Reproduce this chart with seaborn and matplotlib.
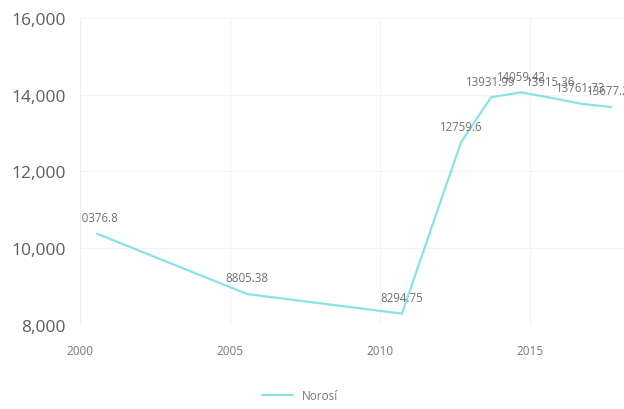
import numpy as np
import pandas as pd
import matplotlib.pyplot as plt
import matplotlib.ticker as mticker
import matplotlib.transforms as mtransforms
import seaborn as sns

# data
years = [2000.57, 2005.57, 2010.73, 2012.7, 2013.7, 2014.7, 2015.7, 2016.7, 2017.7]
values = [10376.8, 8805.38, 8294.75, 12759.6, 13931.99, 14059.42, 13915.36, 13761.73, 13677.21]
series_name = 'Norosí'
x_ticks = [2000, 2005, 2010, 2015]
y_ticks = [8000, 10000, 12000, 14000, 16000]

df = pd.DataFrame({'year': years, 'value': values, 'series': series_name})

sns.set_style('white')
plt.rcParams['font.family'] = ['Open Sans', 'DejaVu Sans']

line_color = '#8ae2e4'
text_color = '#5e5e5e'

fig = plt.figure(figsize=(6.24, 4.10), dpi=100)
ax = fig.add_axes([0.128, 0.205, 0.872, 0.749])

sns.lineplot(data=df, x='year', y='value', hue='series', palette=[line_color],
             linewidth=1.6, ax=ax)

# value labels above each point (clipped by the axes like the original)
offset = mtransforms.offset_copy(ax.transData, fig=fig, x=0, y=7, units='points')
for x, y in zip(years, values):
    ax.text(x, y, f'{y}', transform=offset, ha='center', va='bottom',
            fontsize=8.3, color='#707070', clip_on=True)

ax.set_xlim(2000, 2018.13)
ax.set_ylim(8000, 16000)
ax.set_xticks(x_ticks)
ax.set_yticks(y_ticks)
ax.yaxis.set_major_formatter(mticker.FuncFormatter(lambda v, p: f'{int(v):,}'))
ax.tick_params(axis='y', labelsize=12.5, colors=text_color, length=0, pad=10)
ax.tick_params(axis='x', labelsize=8.5, colors='#777777', length=0, pad=14)
ax.grid(True, color='#f3f3f3', linewidth=0.8)
for s in ax.spines.values():
    s.set_visible(False)
ax.axvline(2000, color='#eeeeee', linewidth=0.8)
ax.set_xlabel('')
ax.set_ylabel('')

leg = ax.legend(loc='upper center', bbox_to_anchor=(0.405, -0.175), frameon=False,
                fontsize=8.5, handlelength=2.6, labelcolor='#777777')
for t in leg.get_texts():
    t.set_text(series_name)

fig.savefig('out.png', dpi=100)
